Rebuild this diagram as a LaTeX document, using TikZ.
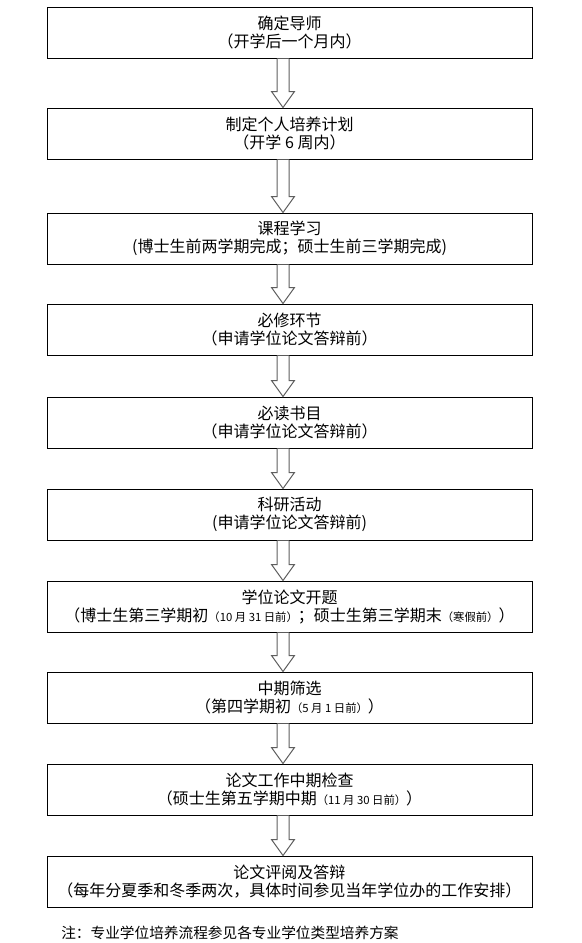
\documentclass[tikz,border=0pt]{standalone}
\usepackage{fontspec}
\setmainfont{Noto Sans CJK SC}
\usepackage{tikz}
\usetikzlibrary{calc}
\definecolor{arrowgray}{HTML}{5F5F5F}
\newcommand{\smallnote}[1]{{\fontsize{8.5}{9}\selectfont #1}}

\begin{document}
\begin{tikzpicture}[x=0.75pt,y=-0.75pt,
  stagebox/.style={draw, line width=0.75pt, minimum width=363.75pt, minimum height=38.25pt,
    inner sep=0pt, align=center, font=\fontsize{12}{13.5}\selectfont,
    execute at begin node={\rule{0pt}{19pt}}},
  hollow/.style={draw=arrowgray, fill=white, line width=0.75pt, line join=miter}]
  \useasboundingbox (0,0) rectangle (582,943);
  % stages, top to bottom
  \foreach \n/\y/\ttl/\sub in {
      1/32.5/确定导师/（开学后一个月内）,
      2/133.5/制定个人培养计划/（开学 6 周内）,
      3/238.5/课程学习/(博士生前两学期完成；硕士生前三学期完成),
      4/329.5/必修环节/（申请学位论文答辩前）,
      5/422.5/必读书目/（申请学位论文答辩前）,
      6/514.5/科研活动/(申请学位论文答辩前),
      7/606.5/学位论文开题/{（博士生第三学期初\smallnote{（10 月 31 日前）}；硕士生第三学期末\smallnote{（寒假前）}）},
      8/697.5/中期筛选/{（第四学期初\smallnote{（5 月 1 日前）}）},
      9/789.5/论文工作中期检查/{（硕士生第五学期中期\smallnote{（11 月 30 日前）}）},
      10/881.5/论文评阅及答辩/（每年分夏季和冬季两次，具体时间参见当年学位办的工作安排）}
    \node[stagebox] (b\n) at (289.5,\y) {\ttl\\\sub};
  % hollow arrows between stages
  \foreach \i [count=\j from 2] in {1,...,9}{
    \coordinate (t) at ($(b\i.south)+(-6.5,0)$);
    \coordinate (h) at ($(b\j.north)+(-6.5,-16)$);
    \coordinate (e) at ($(b\j.north)+(-6.5,0)$);
    \draw[hollow] ($(t)+(-6,0)$) -- ($(h)+(-6,0)$) -- ($(h)+(-11.5,0)$) -- (e)
      -- ($(h)+(11.5,0)$) -- ($(h)+(6,0)$) -- ($(t)+(6,0)$);
  }
  \node[anchor=west, font=\fontsize{11}{12}\selectfont, inner sep=0pt] (note) at (61,933)
    {注：专业学位培养流程参见各专业学位类型培养方案};
\end{tikzpicture}
\end{document}
